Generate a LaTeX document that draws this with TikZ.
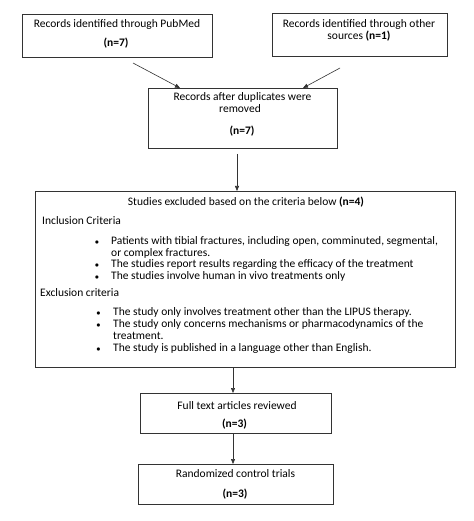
\documentclass[tikz,border=0pt]{standalone}
\usepackage{fontspec}
\setmainfont{Carlito}
\usetikzlibrary{arrows.meta}
\begin{document}
\begin{tikzpicture}[x=1pt,y=-1pt,
  box/.style={draw=black!80, line width=0.8pt, inner sep=0pt},
  txt/.style={font=\fontsize{11.5}{12}\selectfont, inner sep=0pt, anchor=base},
  ltxt/.style={txt, anchor=base west},
  bul/.style={font=\fontsize{8}{10}\selectfont, inner sep=0pt, anchor=base},
  arr/.style={-{Triangle[length=5pt,width=4pt]}, draw=black!80, line width=0.6pt}]
\useasboundingbox (0,0) rectangle (473,521);
\fill[white] (0,0) rectangle (473,521);
% boxes
\node[box, minimum width=190pt, minimum height=43pt] (b1) at (117,35.5) {};
\node[box, minimum width=175pt, minimum height=43pt] (b2) at (359.5,34.5) {};
\node[box, minimum width=189pt, minimum height=60pt] (b3) at (242.5,118) {};
\node[box, minimum width=420pt, minimum height=176pt] (b4) at (245,279) {};
\node[box, minimum width=191pt, minimum height=40pt] (b5) at (235.5,413) {};
\node[box, minimum width=195pt, minimum height=40pt] (b6) at (235.5,484) {};
% texts
\node[txt] (t1a) at (117,28) {Records identified through PubMed};
\node[txt] (t1b) at (116,47) {\textbf{(n=7)}};
\node[txt] (t2a) at (359,28) {Records identified through other};
\node[txt] (t2b) at (359,40) {sources \textbf{(n=1)}};
\node[txt] (t3a) at (242.5,101) {Records after duplicates were};
\node[txt] (t3b) at (240,113) {removed};
\node[txt] (t3c) at (242,135) {\textbf{(n=7)}};
\node[txt] (t4) at (246,205) {Studies excluded based on the criteria below \textbf{(n=4)}};
\node[ltxt] (inc) at (42,224) {Inclusion Criteria};
\node[bul] (ib1) at (97,244) {$\bullet$};
\node[ltxt] (i1a) at (111,244) {Patients with tibial fractures, including open, comminuted, segmental,};
\node[ltxt] (i1b) at (111,256) {or complex fractures.};
\node[bul] (ib2) at (97,267.5) {$\bullet$};
\node[ltxt] (i2) at (111,267.5) {The studies report results regarding the efficacy of the treatment};
\node[bul] (ib3) at (97,279) {$\bullet$};
\node[ltxt] (i3) at (111,279) {The studies involve human in vivo treatments only};
\node[ltxt] (exc) at (40,296) {Exclusion criteria};
\node[bul] (eb1) at (98.5,315.5) {$\bullet$};
\node[ltxt] (e1) at (113,315.5) {The study only involves treatment other than the LIPUS therapy.};
\node[bul] (eb2) at (98.5,327.5) {$\bullet$};
\node[ltxt] (e2a) at (113,327.5) {The study only concerns mechanisms or pharmacodynamics of the};
\node[ltxt] (e2b) at (113,339.5) {treatment.};
\node[bul] (eb3) at (98.5,351.5) {$\bullet$};
\node[ltxt] (e3) at (113,351.5) {The study is published in a language other than English.};
\node[txt] (t5a) at (237,409) {Full text articles reviewed};
\node[txt] (t5b) at (234.5,427) {\textbf{(n=3)}};
\node[txt] (t6a) at (235.5,477) {Randomized control trials};
\node[txt] (t6b) at (235,497) {\textbf{(n=3)}};
% connector ends
\coordinate (s1) at (133,63);
\coordinate (e1) at (180,88);
\coordinate (s2) at (340,68);
\coordinate (e2) at (303,88);
\coordinate (s3) at (237,154);
\coordinate (e3) at (237,191);
\coordinate (s4) at (233,367);
\coordinate (e4) at (233,393);
\coordinate (s5) at (233,433);
\coordinate (e5) at (233,464);
\draw[arr] (s1) -- (e1);
\draw[arr] (s2) -- (e2);
\draw[arr] (s3) -- (e3);
\draw[arr] (s4) -- (e4);
\draw[arr] (s5) -- (e5);
\end{tikzpicture}
\end{document}
